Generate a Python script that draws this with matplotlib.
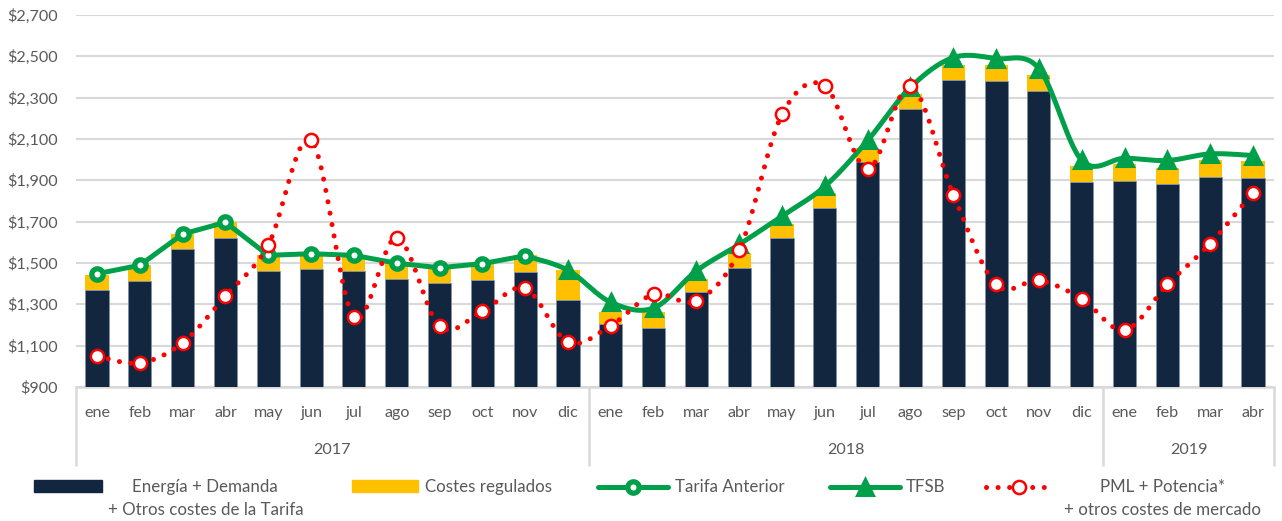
import numpy as np
import matplotlib.pyplot as plt
from matplotlib.lines import Line2D
from matplotlib.patches import Rectangle
from matplotlib.ticker import FuncFormatter

plt.rcParams['font.family'] = ['Lato', 'DejaVu Sans']

# meses y años del eje de categorías
meses = ['ene', 'feb', 'mar', 'abr', 'may', 'jun', 'jul', 'ago', 'sep', 'oct', 'nov', 'dic'] * 2 + \
        ['ene', 'feb', 'mar', 'abr']
anios = ['2017', '2018', '2019']
meses_por_anio = [12, 12, 4]

# Energía + Demanda + Otros costes de la Tarifa (barra azul)
energia = [1370, 1413, 1566, 1620, 1462, 1470, 1462, 1422, 1402, 1418, 1457, 1321,
           1205, 1187, 1361, 1476, 1621, 1765, 1987, 2243, 2384, 2380, 2331, 1893,
           1898, 1883, 1918, 1912]
# Costes regulados (barra amarilla)
regulados = [74, 77, 75, 77, 78, 72, 75, 77, 73, 77, 81, 144,
             56, 77, 61, 74, 70, 74, 69, 77, 73, 77, 77, 74,
             80, 75, 80, 80]
# Tarifa Anterior: ene-nov 2017
tarifa_anterior = [1448, 1489, 1640, 1697, 1537, 1545, 1537, 1499, 1477, 1497, 1535]
# TFSB: dic 2017 - abr 2019
tfsb = [1465, 1310, 1282, 1462, 1590, 1727, 1871, 2093, 2350, 2494, 2489, 2441,
        1997, 2007, 1996, 2028, 2020]
# PML + Potencia* + otros costes de mercado
pml = [1050, 1016, 1114, 1341, 1587, 2095, 1237, 1622, 1194, 1266, 1378, 1117,
       1197, 1349, 1317, 1561, 2219, 2357, 1955, 2357, 1830, 1396, 1416, 1327,
       1175, 1396, 1594, 1841]

AZUL = '#13263F'
AMARILLO = '#FFC000'
VERDE = '#00A04A'
ROJO = '#FF0000'
GRIS = '#595959'
REJILLA = '#D9D9D9'
FS_EJE = 11.6
FS_LEY = 12.2


def suavizar(xs, ys, n=30):
    # curva suavizada estilo Excel (Bezier / Catmull-Rom)
    xs = np.asarray(xs, float)
    ys = np.asarray(ys, float)
    pts = np.column_stack([xs, ys])
    k = len(pts)
    t = np.linspace(0, 1, n)[:, None]
    out = [pts[:1]]
    for i in range(k - 1):
        p0 = pts[max(i - 1, 0)]
        p1 = pts[i]
        p2 = pts[i + 1]
        p3 = pts[min(i + 2, k - 1)]
        c1 = p1 + (p2 - p0) / 6
        c2 = p2 - (p3 - p1) / 6
        seg = ((1 - t) ** 3) * p1 + 3 * ((1 - t) ** 2) * t * c1 + 3 * (1 - t) * t ** 2 * c2 + t ** 3 * p2
        out.append(seg[1:])
    out = np.vstack(out)
    return out[:, 0], out[:, 1]


W, H = 1282, 521
fig = plt.figure(figsize=(W / 100, H / 100), dpi=100)
ax = fig.add_axes([75.6 / W, 1 - 387 / H, (1274.4 - 75.6) / W, 372 / H])

x = np.arange(len(meses))

ax.bar(x, energia, width=0.54, color=AZUL, edgecolor='#8090A8', linewidth=0.5, zorder=2)
ax.bar(x, regulados, width=0.54, bottom=energia, color=AMARILLO, linewidth=0, zorder=2)

# Tarifa Anterior (líneas rectas)
x_ta = x[:len(tarifa_anterior)]
ax.plot(x_ta, tarifa_anterior, color=VERDE, lw=3.6, solid_joinstyle='round', zorder=3)
ax.plot(x_ta, tarifa_anterior, ls='none', marker='o', ms=8.2, mew=3.8,
        mfc='white', mec=VERDE, zorder=4)

# TFSB (suavizada, enlazada desde el último punto de la tarifa anterior)
x_tf = x[len(tarifa_anterior):]
xs, ys = suavizar(np.r_[x_ta[-1], x_tf], np.r_[tarifa_anterior[-1], tfsb])
ax.plot(xs, ys, color=VERDE, lw=3.6, solid_capstyle='round', zorder=3)
ax.plot(x_tf, tfsb, ls='none', marker='^', ms=11.5, mew=2.2, mfc=VERDE, mec=VERDE,
        zorder=4)

# PML (punteada, suavizada)
xs, ys = suavizar(x, pml)
ax.plot(xs, ys, color=ROJO, lw=3.6, ls=(0, (0.01, 2.3)), dash_capstyle='round', zorder=5)
ax.plot(x, pml, ls='none', marker='o', ms=9.5, mew=1.8, mfc='white', mec=ROJO, zorder=6)

# ejes
ax.set_xlim(-0.5, len(meses) - 0.5)
ax.set_ylim(900, 2700)
ax.set_yticks(range(900, 2701, 200))
ax.yaxis.set_major_formatter(FuncFormatter(lambda v, p: '${:,.0f}'.format(v)))
ax.tick_params(axis='y', length=0, pad=12.5, labelsize=FS_EJE, labelcolor=GRIS)
ax.set_xticks([])
ax.yaxis.grid(True, color=REJILLA, lw=1.5)
ax.set_axisbelow(True)
for s in ['top', 'right', 'left']:
    ax.spines[s].set_visible(False)
ax.spines['bottom'].set_color(REJILLA)
ax.spines['bottom'].set_linewidth(1.8)
ax.spines['bottom'].set_zorder(1)

# eje de categorías multinivel
tr = ax.get_xaxis_transform()
for i, m in enumerate(meses):
    ax.text(i, -0.070, m, transform=tr, ha='center', va='center', fontsize=FS_EJE, color=GRIS)
inicio = -0.5
bordes = [inicio]
for anio, n in zip(anios, meses_por_anio):
    ax.text(inicio + n / 2, -0.170, anio, transform=tr, ha='center', va='center',
            fontsize=FS_EJE, color=GRIS)
    inicio += n
    bordes.append(inicio)
ax.vlines(bordes, -0.212, 0, transform=tr, colors=REJILLA, lw=1.8, clip_on=False)


# leyenda
def fx(px):
    return px / W


def fy(py):
    return 1 - py / H


fig.add_artist(Rectangle((fx(34), fy(492)), fx(102) - fx(34), 12 / H, color=AZUL,
                         transform=fig.transFigure))
fig.text(fx(205), fy(487), 'Energía + Demanda', ha='center', va='center', fontsize=FS_LEY, color=GRIS)
fig.text(fx(206), fy(510), '+ Otros costes de la Tarifa', ha='center', va='center',
         fontsize=FS_LEY, color=GRIS)

fig.add_artist(Rectangle((fx(352), fy(492)), fx(418) - fx(352), 12 / H, color=AMARILLO,
                         transform=fig.transFigure))
fig.text(fx(425), fy(487), 'Costes regulados', ha='left', va='center', fontsize=FS_LEY, color=GRIS)

fig.add_artist(Line2D([fx(598), fx(668)], [fy(487), fy(487)], color=VERDE, lw=3.6,
                      solid_capstyle='round', transform=fig.transFigure))
fig.add_artist(Line2D([fx(633)], [fy(487)], ls='none', marker='o', ms=8.2, mew=3.8,
                      mfc='white', mec=VERDE, transform=fig.transFigure))
fig.text(fx(675), fy(487), 'Tarifa Anterior', ha='left', va='center', fontsize=FS_LEY, color=GRIS)

fig.add_artist(Line2D([fx(830), fx(900)], [fy(487), fy(487)], color=VERDE, lw=3.6,
                      solid_capstyle='round', transform=fig.transFigure))
fig.add_artist(Line2D([fx(865)], [fy(487)], ls='none', marker='^', ms=11.5, mew=2.2,
                      mfc=VERDE, mec=VERDE, transform=fig.transFigure))
fig.text(fx(906), fy(487), 'TFSB', ha='left', va='center', fontsize=FS_LEY, color=GRIS)

fig.add_artist(Line2D([fx(986), fx(1053)], [fy(487), fy(487)], color=ROJO, lw=3.6,
                      ls=(0, (0.01, 2.3)), dash_capstyle='round', transform=fig.transFigure))
fig.add_artist(Line2D([fx(1019)], [fy(487)], ls='none', marker='o', ms=9.5, mew=1.8,
                      mfc='white', mec=ROJO, transform=fig.transFigure))
fig.text(fx(1163), fy(487), 'PML + Potencia*', ha='center', va='center', fontsize=FS_LEY, color=GRIS)
fig.text(fx(1163), fy(510), '+ otros costes de mercado', ha='center', va='center',
         fontsize=FS_LEY, color=GRIS)

fig.savefig('out.png', dpi=100)
